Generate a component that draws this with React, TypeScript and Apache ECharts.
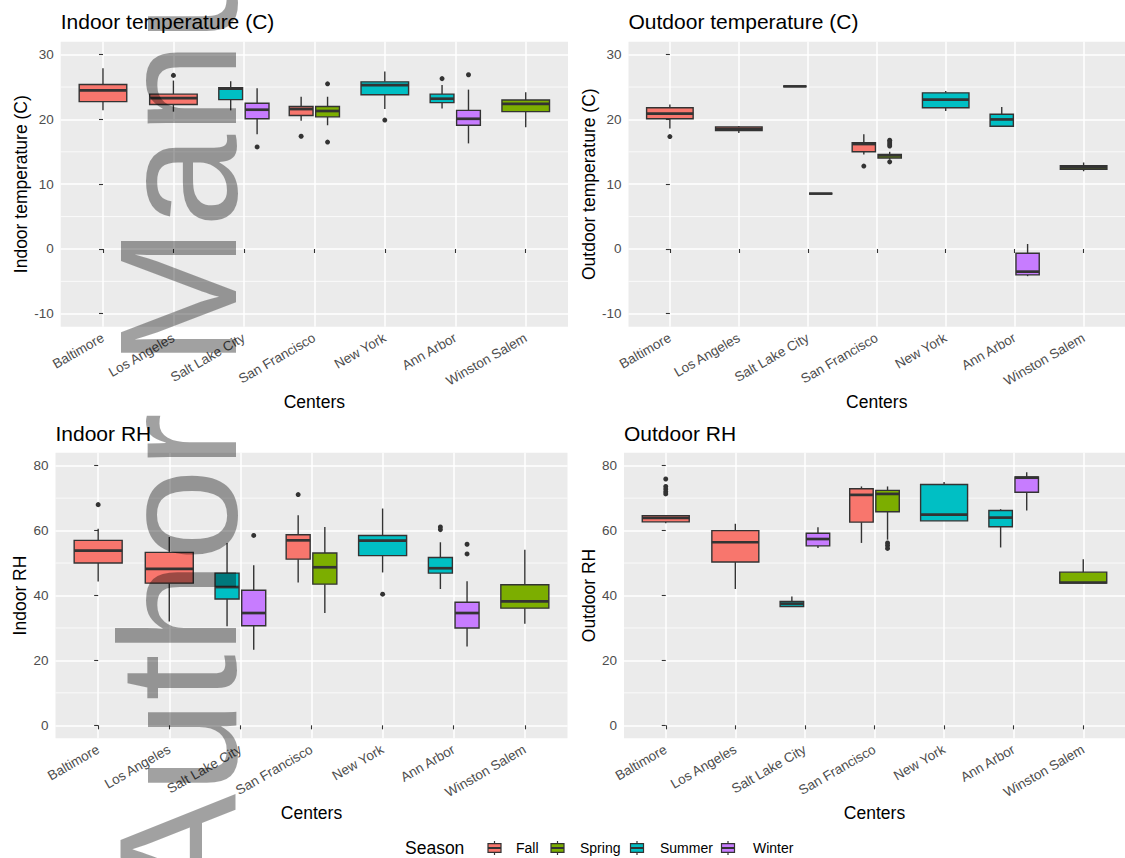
import React, { useEffect, useRef } from 'react';
import * as echarts from 'echarts';

const FONT = '"Liberation Sans", Arial, Helvetica, sans-serif';

const centers = ['Baltimore', 'Los Angeles', 'Salt Lake City', 'San Francisco', 'New York', 'Ann Arbor', 'Winston Salem'];
const seasons = ['Fall', 'Spring', 'Summer', 'Winter'];
const seasonColors = ['#F8766D', '#7CAE00', '#00BFC4', '#C77CFF'];

// one box per (center, season) group
const groupCenter = [0, 1, 2, 2, 3, 3, 4, 5, 5, 6];
const groupSeason = [0, 0, 2, 3, 0, 1, 2, 2, 3, 1];

// [min, q1, median, q3, max] per group
const indoorTempStats = [
  [21.4, 22.75, 24.5, 25.4, 27.9],
  [21.2, 22.3, 23.3, 23.9, 26.0],
  [21.4, 23.05, 24.75, 24.9, 25.9],
  [17.7, 20.1, 21.5, 22.5, 24.8],
  [19.8, 20.6, 21.6, 22.0, 23.5],
  [19.1, 20.4, 21.3, 22.0, 23.5],
  [21.6, 23.8, 25.3, 25.8, 27.4],
  [21.7, 22.6, 23.2, 23.9, 25.3],
  [16.3, 19.1, 20.1, 21.4, 24.6],
  [18.8, 21.2, 22.4, 23.0, 24.2],
];
// [group, value]
const indoorTempOutliers = [
  [1, 26.8], [3, 15.75], [4, 17.4], [5, 25.5], [5, 16.5], [6, 19.9], [7, 26.3], [8, 26.9],
];

const outdoorTempStats = [
  [18.6, 20.1, 20.9, 21.8, 22.3],
  [17.9, 18.3, 18.55, 18.85, 19.0],
  [25.1, 25.1, 25.1, 25.1, 25.1],
  [8.55, 8.55, 8.55, 8.55, 8.55],
  [14.6, 15.0, 16.2, 16.4, 17.7],
  [13.8, 14.05, 14.45, 14.6, 15.0],
  [21.3, 21.8, 23.05, 24.1, 24.4],
  [18.9, 18.95, 20.0, 20.8, 21.9],
  [-4.2, -4.0, -3.5, -0.67, 0.77],
  [12.0, 12.3, 12.6, 12.85, 13.35],
];
const outdoorTempOutliers = [
  [0, 17.35], [4, 12.8], [5, 16.8], [5, 16.5], [5, 16.2], [5, 15.9], [5, 13.45],
];

const indoorRHStats = [
  [44.3, 50.0, 53.8, 57.0, 60.6],
  [32.0, 43.8, 48.2, 53.3, 58.0],
  [30.5, 38.9, 42.6, 46.9, 56.2],
  [23.3, 30.7, 34.6, 41.6, 49.3],
  [44.0, 51.2, 57.0, 58.7, 64.7],
  [34.6, 43.5, 48.7, 53.1, 61.1],
  [47.1, 52.3, 56.9, 58.5, 66.8],
  [42.0, 46.9, 48.4, 51.7, 56.4],
  [24.3, 30.0, 34.6, 37.9, 44.4],
  [31.3, 36.1, 38.2, 43.3, 54.1],
];
const indoorRHOutliers = [
  [0, 68.0], [3, 58.5], [4, 71.1], [6, 40.4], [7, 61.1], [7, 60.3], [8, 55.8], [8, 52.8],
];

const outdoorRHStats = [
  [62.3, 62.7, 63.9, 64.6, 64.8],
  [42.0, 50.3, 56.4, 60.0, 62.1],
  [36.6, 36.6, 37.5, 38.2, 39.7],
  [54.6, 55.3, 57.4, 59.2, 61.0],
  [56.2, 62.6, 71.0, 72.9, 73.6],
  [57.2, 65.8, 71.3, 72.4, 73.6],
  [63.0, 63.0, 64.9, 74.2, 75.0],
  [54.8, 61.2, 64.0, 66.2, 66.6],
  [66.2, 71.8, 76.3, 76.5, 78.0],
  [43.6, 43.8, 44.0, 47.2, 51.2],
];
const outdoorRHOutliers = [
  [0, 75.9], [0, 73.6], [0, 72.8], [0, 72.0], [0, 71.3], [5, 56.2], [5, 55.4], [5, 54.5],
];

const tempTicks = [-10, 0, 10, 20, 30];
const tempMinor = [-5, 5, 15, 25];
const rhTicks = [0, 20, 40, 60, 80];
const rhMinor = [10, 30, 50, 70];

function slotOf(g: number) {
  const c = groupCenter[g];
  const members = groupCenter.map((cc, i) => (cc === c ? i : -1)).filter((i) => i >= 0);
  return [c, members.indexOf(g), members.length];
}

function boxData(stats: number[][]) {
  return stats.map((s, g) => [...slotOf(g), ...s, groupSeason[g]]);
}
function outlierData(outs: number[][]) {
  return outs.map(([g, v]) => [...slotOf(g), v]);
}

const panels = [
  {
    title: 'Indoor temperature (C)', yName: 'Indoor temperature (C)', stats: indoorTempStats, outliers: indoorTempOutliers,
    yMin: -12, yMax: 32, ticks: tempTicks, minor: tempMinor,
    grid: { left: 60.7, top: 41.7, width: 507.3, height: 285 }, titleTop: 11, nameGap: 31, xNameGap: 66,
  },
  {
    title: 'Outdoor temperature (C)', yName: 'Outdoor temperature (C)', stats: outdoorTempStats, outliers: outdoorTempOutliers,
    yMin: -12, yMax: 32, ticks: tempTicks, minor: tempMinor,
    grid: { left: 628.5, top: 41.7, width: 508.5, height: 285 }, titleTop: 11, nameGap: 29, xNameGap: 66,
  },
  {
    title: 'Indoor RH', yName: 'Indoor RH', stats: indoorRHStats, outliers: indoorRHOutliers,
    yMin: -4, yMax: 84, ticks: rhTicks, minor: rhMinor,
    grid: { left: 55.5, top: 452.7, width: 512, height: 285.6 }, titleTop: 423, nameGap: 27, xNameGap: 66,
  },
  {
    title: 'Outdoor RH', yName: 'Outdoor RH', stats: outdoorRHStats, outliers: outdoorRHOutliers,
    yMin: -4, yMax: 84, ticks: rhTicks, minor: rhMinor,
    grid: { left: 624, top: 452.7, width: 513, height: 285.6 }, titleTop: 423, nameGap: 26, xNameGap: 66,
  },
];

function renderBox(params: any, api: any) {
  const ci = api.value(0);
  const slot = api.value(1);
  const n = api.value(2);
  const band = api.size([1, 0])[0];
  const slotW = (band * 0.75) / n;
  const boxW = slotW * 0.9;
  const cx = api.coord([ci, 0])[0] + (slot - (n - 1) / 2) * slotW;
  const yMin = api.coord([ci, api.value(3)])[1];
  const yQ1 = api.coord([ci, api.value(4)])[1];
  const yMed = api.coord([ci, api.value(5)])[1];
  const yQ3 = api.coord([ci, api.value(6)])[1];
  const yMax = api.coord([ci, api.value(7)])[1];
  const color = seasonColors[api.value(8)];
  const stroke = '#333333';
  return {
    type: 'group',
    children: [
      { type: 'line', shape: { x1: cx, y1: yMax, x2: cx, y2: yQ3 }, style: { stroke, lineWidth: 1.4 } },
      { type: 'line', shape: { x1: cx, y1: yQ1, x2: cx, y2: yMin }, style: { stroke, lineWidth: 1.4 } },
      { type: 'rect', shape: { x: cx - boxW / 2, y: yQ3, width: boxW, height: yQ1 - yQ3 }, style: { fill: color, stroke, lineWidth: 1.4 } },
      { type: 'line', shape: { x1: cx - boxW / 2, y1: yMed, x2: cx + boxW / 2, y2: yMed }, style: { stroke, lineWidth: 2.7 } },
    ],
  };
}

function renderOutlier(params: any, api: any) {
  const ci = api.value(0);
  const slot = api.value(1);
  const n = api.value(2);
  const band = api.size([1, 0])[0];
  const slotW = (band * 0.75) / n;
  const cx = api.coord([ci, 0])[0] + (slot - (n - 1) / 2) * slotW;
  const y = api.coord([ci, api.value(3)])[1];
  return { type: 'circle', shape: { cx, cy: y, r: 2.5 }, style: { fill: '#333333' } };
}

function renderMinor(params: any, api: any) {
  const cs = params.coordSys;
  const y = api.coord([0, api.value(1)])[1];
  return { type: 'line', shape: { x1: cs.x, y1: y, x2: cs.x + cs.width, y2: y }, style: { stroke: '#FFFFFF', lineWidth: 0.75 } };
}

const legendKeyX = [494.5, 557.5, 637, 728];
const legendTextX = [516, 580, 660, 753];

export default function App() {
  const ref = useRef<HTMLDivElement>(null);
  useEffect(() => {
    if (!ref.current) return;
    const chart = echarts.init(ref.current, undefined, { renderer: 'svg' });
    const catIdx = centers.map((_, i) => i);
    const series: any[] = [];
    panels.forEach((p, i) => {
      series.push({
        type: 'custom', xAxisIndex: i, yAxisIndex: i, z: 1, silent: true,
        data: p.minor.map((v) => [0, v]), encode: { x: 0, y: 1 }, renderItem: renderMinor,
      });
      series.push({
        type: 'custom', xAxisIndex: i, yAxisIndex: i, z: 3, silent: true,
        data: boxData(p.stats), encode: { x: 0, y: [3, 4, 5, 6, 7] }, renderItem: renderBox,
      });
      series.push({
        type: 'custom', xAxisIndex: i, yAxisIndex: i, z: 4, silent: true,
        data: outlierData(p.outliers), encode: { x: 0, y: 3 }, renderItem: renderOutlier,
      });
    });

    const legendEls: any[] = [
      { type: 'text', x: 405, y: 848, style: { text: 'Season', fontFamily: FONT, fontSize: 17.5, fill: '#000', align: 'left', verticalAlign: 'middle', textAlign: 'left', textVerticalAlign: 'middle' } },
    ];
    seasons.forEach((s, i) => {
      const cx = legendKeyX[i];
      legendEls.push({ type: 'line', shape: { x1: cx, y1: 841, x2: cx, y2: 855 }, style: { stroke: '#333', lineWidth: 1.2 } });
      legendEls.push({ type: 'rect', shape: { x: cx - 6.5, y: 843.7, width: 13, height: 8.6 }, style: { fill: seasonColors[i], stroke: '#333', lineWidth: 1.2 } });
      legendEls.push({ type: 'line', shape: { x1: cx - 6.5, y1: 848, x2: cx + 6.5, y2: 848 }, style: { stroke: '#333', lineWidth: 2 } });
      legendEls.push({ type: 'text', x: legendTextX[i], y: 848, style: { text: s, fontFamily: FONT, fontSize: 14, fill: '#000', align: 'left', verticalAlign: 'middle', textAlign: 'left', textVerticalAlign: 'middle' } });
    });

    const option: any = {
      animation: false,
      backgroundColor: '#FFFFFF',
      title: panels.map((p) => ({
        text: p.title, left: p.grid.left, top: p.titleTop, padding: 0,
        textStyle: { fontFamily: FONT, fontSize: 21, fontWeight: 'normal', color: '#000000' },
      })),
      grid: panels.map((p) => ({
        left: p.grid.left, top: p.grid.top, width: p.grid.width, height: p.grid.height,
        show: true, backgroundColor: '#EBEBEB', borderWidth: 0, containLabel: false,
      })),
      xAxis: panels.map((p, i) => ({
        type: 'value', gridIndex: i, min: -0.6, max: 6.6,
        name: 'Centers', nameLocation: 'middle', nameGap: p.xNameGap,
        nameTextStyle: { fontFamily: FONT, fontSize: 17.5, color: '#000000' },
        axisLine: { show: false },
        axisTick: { show: true, length: 4, customValues: catIdx, lineStyle: { color: '#333333', width: 1.1 } },
        axisLabel: {
          customValues: catIdx, formatter: (v: number) => centers[Math.round(v)] ?? '',
          rotate: 30, margin: 10, fontSize: 13.5, color: '#4D4D4D', fontFamily: FONT,
        },
        splitLine: { show: true, lineStyle: { color: '#FFFFFF', width: 1.5 } },
        minorSplitLine: { show: false },
      })),
      yAxis: panels.map((p, i) => ({
        type: 'value', gridIndex: i, min: p.yMin, max: p.yMax,
        name: p.yName, nameLocation: 'middle', nameGap: p.nameGap,
        nameTextStyle: { fontFamily: FONT, fontSize: 17.5, color: '#000000' },
        axisLine: { show: false },
        axisTick: { show: true, length: 4, customValues: p.ticks, lineStyle: { color: '#333333', width: 1.1 } },
        axisLabel: { customValues: p.ticks, margin: 7, fontSize: 13.5, color: '#4D4D4D', fontFamily: FONT },
        splitLine: { show: true, lineStyle: { color: '#FFFFFF', width: 1.5 } },
        minorSplitLine: { show: false },
      })),
      series,
      graphic: [
        ...legendEls,
        {
          type: 'text', x: 177.5, y: 905, rotation: Math.PI / 2, z: 100, silent: true,
          style: {
            text: 'Author Manuscript', fontFamily: FONT, fontSize: 167, fill: 'rgba(0,0,0,0.37)',
            align: 'left', verticalAlign: 'middle', textAlign: 'left', textVerticalAlign: 'middle',
          },
        },
      ],
    };
    chart.setOption(option);
    return () => chart.dispose();
  }, []);
  return (
    <div
      ref={ref}
      style={{ position: 'absolute', left: 0, top: 0, width: 1125, height: 858, background: '#fff' }}
    />
  );
}
